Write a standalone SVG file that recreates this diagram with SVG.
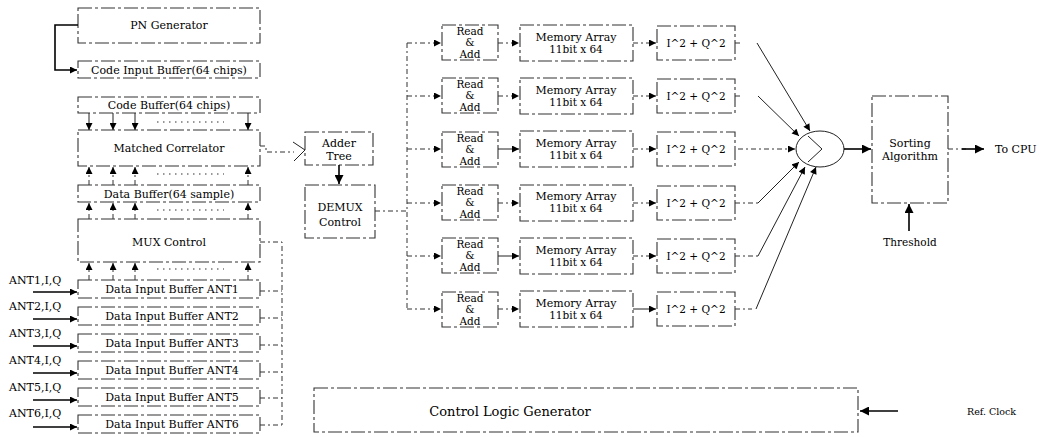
<svg xmlns="http://www.w3.org/2000/svg" width="1043" height="437" viewBox="0 0 1043 437">
<style>
.bx{fill:none;stroke:#333;stroke-width:1.1;stroke-dasharray:14 3 3 3}
.t{font-family:"DejaVu Serif","Liberation Serif",serif;font-size:11px;fill:#000;text-anchor:middle}
.s{font-size:10.5px}
.l{text-anchor:start}
.ln{fill:none;stroke:#222;stroke-width:1}
.dl{fill:none;stroke:#333;stroke-width:1;stroke-dasharray:5 3 2 3}
.th{fill:none;stroke:#000;stroke-width:1.6}
.dots{fill:none;stroke:#333;stroke-width:1.2;stroke-dasharray:1.5 4.5}
</style>
<defs>
<marker id="ah" viewBox="0 0 10 10" refX="10" refY="5" markerWidth="8" markerHeight="7" markerUnits="userSpaceOnUse" orient="auto"><path d="M0,0 L10,5 L0,10 z" fill="#000"/></marker>
<marker id="ab" viewBox="0 0 10 10" refX="10" refY="5" markerWidth="11" markerHeight="9" markerUnits="userSpaceOnUse" orient="auto"><path d="M0,0 L10,5 L0,10 z" fill="#000"/></marker>
</defs>

<!-- Left column nodes -->
<g id="pn-generator"><rect class="bx" x="78" y="8" width="182" height="35"/><text class="t" x="169" y="29">PN Generator</text></g>
<g id="code-input-buffer"><rect class="bx" x="78" y="61" width="182" height="17"/><text class="t" x="169" y="73.5">Code Input Buffer(64 chips)</text></g>
<g id="code-buffer"><rect class="bx" x="78" y="97" width="182" height="16"/><text class="t" x="169" y="109">Code Buffer(64 chips)</text></g>
<g id="matched-correlator"><rect class="bx" x="78" y="130" width="182" height="36"/><text class="t" x="169" y="152">Matched Correlator</text></g>
<g id="data-buffer"><rect class="bx" x="78" y="185" width="182" height="17"/><text class="t" x="169" y="197.5">Data Buffer(64 sample)</text></g>
<g id="mux-control"><rect class="bx" x="78" y="219" width="182" height="43"/><text class="t" x="169" y="246">MUX Control</text></g>
<g id="ant1"><rect class="bx" x="78" y="280" width="182" height="18"/><text class="t" x="172" y="293">Data Input Buffer ANT1</text><text class="t l" x="9" y="284">ANT1,I,Q</text></g>
<g id="ant2"><rect class="bx" x="78" y="307" width="182" height="18"/><text class="t" x="172" y="320">Data Input Buffer ANT2</text><text class="t l" x="9" y="310">ANT2,I,Q</text></g>
<g id="ant3"><rect class="bx" x="78" y="334" width="182" height="18"/><text class="t" x="172" y="347">Data Input Buffer ANT3</text><text class="t l" x="9" y="337">ANT3,I,Q</text></g>
<g id="ant4"><rect class="bx" x="78" y="361" width="182" height="18"/><text class="t" x="172" y="374">Data Input Buffer ANT4</text><text class="t l" x="9" y="364">ANT4,I,Q</text></g>
<g id="ant5"><rect class="bx" x="78" y="388" width="182" height="18"/><text class="t" x="172" y="401">Data Input Buffer ANT5</text><text class="t l" x="9" y="391">ANT5,I,Q</text></g>
<g id="ant6"><rect class="bx" x="78" y="415" width="182" height="18"/><text class="t" x="172" y="428">Data Input Buffer ANT6</text><text class="t l" x="9" y="417">ANT6,I,Q</text></g>

<!-- Middle -->
<g id="adder-tree"><rect class="bx" x="305" y="132" width="68" height="33"/><text class="t" x="339" y="147">Adder</text><text class="t" x="339" y="160">Tree</text></g>
<g id="demux-control"><rect class="bx" x="305" y="185" width="70" height="53"/><text class="t" x="340" y="211">DEMUX</text><text class="t" x="340" y="226">Control</text></g>

<!-- Rows -->
<g id="row1"><rect class="bx" x="442" y="25" width="56" height="35"/><text class="t s" x="470" y="35">Read</text><text class="t s" x="470" y="46">&amp;</text><text class="t s" x="470" y="58">Add</text>
<rect class="bx" x="520" y="25" width="113" height="36"/><text class="t" x="576" y="40.5">Memory Array</text><text class="t s" x="576" y="52.5">11bit x 64</text>
<rect class="bx" x="657" y="26" width="78" height="34"/><text class="t s" x="696" y="47">I^2 + Q^2</text></g>
<g id="row2"><rect class="bx" x="442" y="78" width="56" height="35"/><text class="t s" x="470" y="88">Read</text><text class="t s" x="470" y="99">&amp;</text><text class="t s" x="470" y="111">Add</text>
<rect class="bx" x="520" y="78" width="113" height="36"/><text class="t" x="576" y="93.5">Memory Array</text><text class="t s" x="576" y="105.5">11bit x 64</text>
<rect class="bx" x="657" y="79" width="78" height="34"/><text class="t s" x="696" y="100">I^2 + Q^2</text></g>
<g id="row3"><rect class="bx" x="442" y="132" width="56" height="35"/><text class="t s" x="470" y="142">Read</text><text class="t s" x="470" y="153">&amp;</text><text class="t s" x="470" y="165">Add</text>
<rect class="bx" x="520" y="131" width="113" height="36"/><text class="t" x="576" y="147">Memory Array</text><text class="t s" x="576" y="159">11bit x 64</text>
<rect class="bx" x="657" y="132" width="78" height="34"/><text class="t s" x="696" y="153">I^2 + Q^2</text></g>
<g id="row4"><rect class="bx" x="442" y="185" width="56" height="35"/><text class="t s" x="470" y="195">Read</text><text class="t s" x="470" y="206">&amp;</text><text class="t s" x="470" y="218">Add</text>
<rect class="bx" x="520" y="185" width="113" height="36"/><text class="t" x="576" y="200">Memory Array</text><text class="t s" x="576" y="212">11bit x 64</text>
<rect class="bx" x="657" y="186" width="78" height="34"/><text class="t s" x="696" y="207">I^2 + Q^2</text></g>
<g id="row5"><rect class="bx" x="442" y="238" width="56" height="35"/><text class="t s" x="470" y="248">Read</text><text class="t s" x="470" y="259">&amp;</text><text class="t s" x="470" y="271">Add</text>
<rect class="bx" x="520" y="238" width="113" height="36"/><text class="t" x="576" y="253.5">Memory Array</text><text class="t s" x="576" y="265.5">11bit x 64</text>
<rect class="bx" x="657" y="239" width="78" height="34"/><text class="t s" x="696" y="260">I^2 + Q^2</text></g>
<g id="row6"><rect class="bx" x="442" y="292" width="56" height="35"/><text class="t s" x="470" y="302">Read</text><text class="t s" x="470" y="313">&amp;</text><text class="t s" x="470" y="325">Add</text>
<rect class="bx" x="520" y="291" width="113" height="36"/><text class="t" x="576" y="306.5">Memory Array</text><text class="t s" x="576" y="318.5">11bit x 64</text>
<rect class="bx" x="657" y="292" width="78" height="34"/><text class="t s" x="696" y="313">I^2 + Q^2</text></g>

<g id="summer"><ellipse cx="820" cy="149" rx="24" ry="18" fill="none" stroke="#222" stroke-width="1"/><path class="ln" d="M808,136 L822,149 L808,162"/></g>
<g id="sorting"><rect class="bx" x="872" y="96" width="76" height="107"/><text class="t" x="910" y="147">Sorting</text><text class="t" x="910" y="160">Algorithm</text></g>
<g id="to-cpu"><text class="t l" x="995" y="153">To CPU</text></g>
<g id="threshold"><text class="t s" x="910" y="246">Threshold</text></g>
<g id="control-logic"><rect class="bx" x="314" y="388" width="544" height="44"/><text class="t" x="510" y="416" style="font-size:13px">Control Logic  Generator</text></g>
<g id="ref-clock"><text class="t l" x="967" y="415" style="font-size:9.5px">Ref. Clock</text></g>

<g id="connectors">
<path class="th" d="M78,25 H55 V70 H77" marker-end="url(#ah)"/>
<!-- code buffer to correlator -->
<line class="ln" x1="89" y1="113" x2="89" y2="130" marker-end="url(#ah)"/>
<line class="ln" x1="113" y1="113" x2="113" y2="130" marker-end="url(#ah)"/>
<line class="ln" x1="135" y1="113" x2="135" y2="130" marker-end="url(#ah)"/>
<line class="ln" x1="248" y1="113" x2="248" y2="130" marker-end="url(#ah)"/>
<line class="dots" x1="157" y1="122" x2="224" y2="122"/>
<!-- data buffer to correlator -->
<line class="dl" x1="89" y1="185" x2="89" y2="167" marker-end="url(#ah)"/>
<line class="dl" x1="113" y1="185" x2="113" y2="167" marker-end="url(#ah)"/>
<line class="dl" x1="135" y1="185" x2="135" y2="167" marker-end="url(#ah)"/>
<line class="dl" x1="248" y1="185" x2="248" y2="167" marker-end="url(#ah)"/>
<line class="dots" x1="157" y1="174" x2="224" y2="174"/>
<!-- mux to data buffer -->
<line class="dl" x1="89" y1="219" x2="89" y2="203" marker-end="url(#ah)"/>
<line class="dl" x1="113" y1="219" x2="113" y2="203" marker-end="url(#ah)"/>
<line class="dl" x1="135" y1="219" x2="135" y2="203" marker-end="url(#ah)"/>
<line class="dl" x1="248" y1="219" x2="248" y2="203" marker-end="url(#ah)"/>
<line class="dots" x1="157" y1="210" x2="224" y2="210"/>
<!-- ant1 to mux -->
<line class="dl" x1="89" y1="280" x2="89" y2="263" marker-end="url(#ah)"/>
<line class="dl" x1="113" y1="280" x2="113" y2="263" marker-end="url(#ah)"/>
<line class="dl" x1="135" y1="280" x2="135" y2="263" marker-end="url(#ah)"/>
<line class="dl" x1="248" y1="280" x2="248" y2="263" marker-end="url(#ah)"/>
<line class="dots" x1="157" y1="269" x2="224" y2="269"/>
<!-- antenna inputs -->
<line class="th" x1="33" y1="292" x2="77" y2="292" marker-end="url(#ah)"/>
<line class="th" x1="33" y1="319" x2="77" y2="319" marker-end="url(#ah)"/>
<line class="th" x1="33" y1="346" x2="77" y2="346" marker-end="url(#ah)"/>
<line class="th" x1="33" y1="373" x2="77" y2="373" marker-end="url(#ah)"/>
<line class="th" x1="33" y1="400" x2="77" y2="400" marker-end="url(#ah)"/>
<line class="th" x1="33" y1="427" x2="77" y2="427" marker-end="url(#ah)"/>
<!-- right-side control bus of left column -->
<path class="dl" d="M260,242 H282 V427 M260,291 H282 M260,318 H282 M260,345 H282 M260,372 H282 M260,398 H282 M260,425 H282"/>
<!-- correlator to adder tree -->
<path class="dl" d="M260,146 H266 V152 H294"/>
<path class="ln" d="M293,142 L305,150 L294,161"/>
<line class="th" x1="339" y1="165" x2="339" y2="184" marker-end="url(#ab)"/>
<!-- demux bus -->
<path class="dl" d="M375,211 H407 M407,43 V309"/>
<line class="dl" x1="407" y1="43" x2="441" y2="43" marker-end="url(#ah)"/>
<line class="dl" x1="407" y1="96" x2="441" y2="96" marker-end="url(#ah)"/>
<line class="dl" x1="407" y1="149" x2="441" y2="149" marker-end="url(#ah)"/>
<line class="dl" x1="407" y1="203" x2="441" y2="203" marker-end="url(#ah)"/>
<line class="dl" x1="407" y1="256" x2="441" y2="256" marker-end="url(#ah)"/>
<line class="dl" x1="407" y1="309" x2="441" y2="309" marker-end="url(#ah)"/>
<!-- read&add to memory -->
<line class="dl" x1="498" y1="43" x2="519" y2="43" marker-end="url(#ah)"/>
<line class="dl" x1="498" y1="96" x2="519" y2="96" marker-end="url(#ah)"/>
<line class="ln" x1="498" y1="149" x2="519" y2="149" marker-end="url(#ah)"/>
<line class="dl" x1="498" y1="203" x2="519" y2="203" marker-end="url(#ah)"/>
<line class="ln" x1="498" y1="256" x2="519" y2="256" marker-end="url(#ah)"/>
<line class="dl" x1="498" y1="309" x2="519" y2="309" marker-end="url(#ah)"/>
<!-- memory to I^2+Q^2 -->
<line class="dl" x1="633" y1="43" x2="656" y2="43" marker-end="url(#ah)"/>
<line class="dl" x1="633" y1="96" x2="656" y2="96" marker-end="url(#ah)"/>
<line class="dl" x1="633" y1="149" x2="656" y2="149" marker-end="url(#ah)"/>
<line class="dl" x1="633" y1="203" x2="656" y2="203" marker-end="url(#ah)"/>
<line class="dl" x1="633" y1="256" x2="656" y2="256" marker-end="url(#ah)"/>
<line class="ln" x1="633" y1="309" x2="656" y2="309" marker-end="url(#ah)"/>
<!-- to summer -->
<path class="dl" d="M735,43 H742 M735,96 H742 M735,203 H758 M735,256 H758 M735,309 H752"/>
<line class="ln" x1="757" y1="43" x2="810" y2="131" marker-end="url(#ah)"/>
<line class="ln" x1="758" y1="96" x2="799" y2="136" marker-end="url(#ah)"/>
<line class="dl" x1="738" y1="149" x2="795" y2="149" marker-end="url(#ah)"/>
<line class="ln" x1="758" y1="203" x2="799" y2="162" marker-end="url(#ah)"/>
<line class="ln" x1="758" y1="256" x2="805" y2="167" marker-end="url(#ah)"/>
<line class="ln" x1="756" y1="309" x2="816" y2="167" marker-end="url(#ah)"/>
<line class="th" x1="844" y1="149" x2="871" y2="149" marker-end="url(#ab)"/>
<path class="dl" d="M948,149 H966"/>
<line class="th" x1="962" y1="149" x2="984" y2="149" marker-end="url(#ab)"/>
<line class="th" x1="909" y1="231" x2="909" y2="204" marker-end="url(#ab)"/>
<line class="th" x1="898" y1="411" x2="860" y2="411" marker-end="url(#ab)"/>
</g>
</svg>
